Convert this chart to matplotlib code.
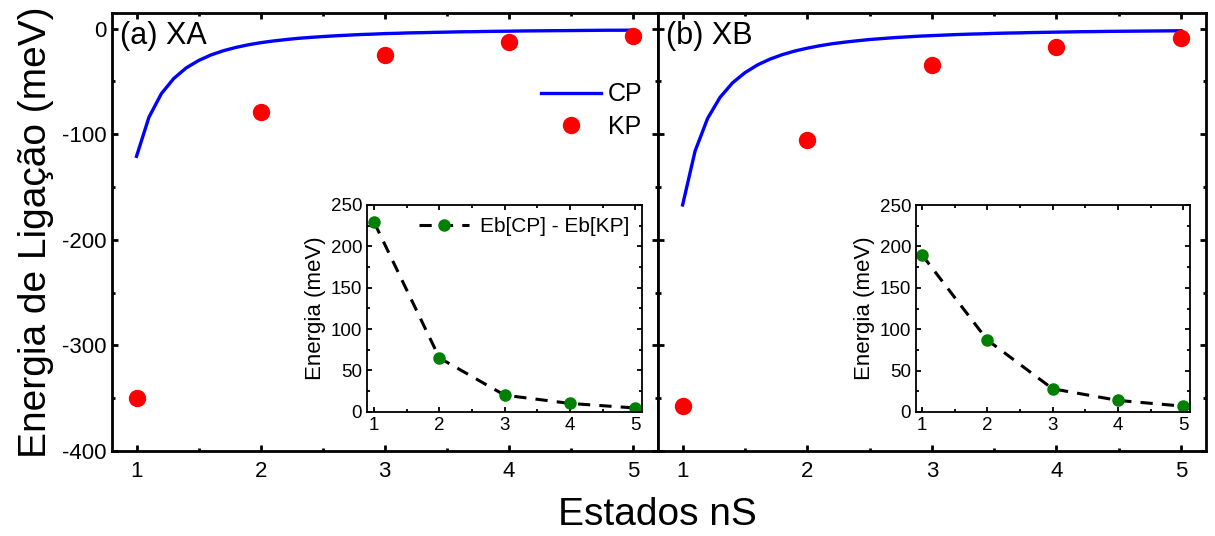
import numpy as np
import matplotlib.pyplot as plt

plt.rcParams["font.family"] = ["Liberation Sans", "DejaVu Sans"]
plt.rcParams["axes.unicode_minus"] = False

# estados nS
estados = [1, 2, 3, 4, 5]

# curva CP (amostrada de 0.1 em 0.1 entre n=1 e n=5)
n_cp = np.linspace(1, 5, 41)
cp_xa = [-121.0, -84.0, -61.7, -47.3, -37.3, -30.3, -25.0, -21.0, -17.9, -15.4,
         -13.4, -11.8, -10.5, -9.3, -8.4, -7.6, -6.9, -6.3, -5.7, -5.3,
         -4.8, -4.5, -4.1, -3.9, -3.6, -3.4, -3.1, -3.0, -2.8, -2.6,
         -2.5, -2.3, -2.2, -2.1, -2.0, -1.9, -1.8, -1.7, -1.6, -1.6, -1.5]
cp_xb = [-167.0, -116.0, -85.2, -65.2, -51.5, -41.8, -34.5, -29.0, -24.7, -21.3,
         -18.6, -16.3, -14.4, -12.9, -11.6, -10.4, -9.5, -8.6, -7.9, -7.2,
         -6.7, -6.2, -5.7, -5.3, -5.0, -4.6, -4.3, -4.1, -3.8, -3.6,
         -3.4, -3.2, -3.0, -2.9, -2.7, -2.6, -2.5, -2.4, -2.3, -2.2, -2.1]

# pontos KP
kp_xa = [-350, -79, -25, -13, -7]
kp_xb = [-357, -106, -34.5, -17.5, -9]

# diferenca Eb[CP] - Eb[KP]
dif_xa = [229, 65, 20, 10, 4.5]
dif_xb = [190, 87, 28, 14, 7]

W, H = 1215, 536
fig = plt.figure(figsize=(W / 100, H / 100), dpi=100)

ax1 = fig.add_axes([111.7 / W, 1 - 451 / H, 546 / W, 438.3 / H])
ax2 = fig.add_axes([657.7 / W, 1 - 451 / H, 548.3 / W, 438.3 / H], sharey=ax1)


def estilo(ax, lw=2.0, maj=4.5, mnr=2.5, size=16):
    for s in ax.spines.values():
        s.set_linewidth(lw)
    ax.tick_params(which="both", direction="in", top=True, right=True,
                   width=lw, labelsize=size)
    ax.tick_params(which="major", length=maj)
    ax.tick_params(which="minor", length=mnr)


for ax, cp, kp, rot in [(ax1, cp_xa, kp_xa, "(a) XA"), (ax2, cp_xb, kp_xb, "(b) XB")]:
    ax.plot(n_cp, cp, color="blue", lw=2.4, label="CP")
    ax.plot(estados, kp, "o", color="red", ms=11.5, label="KP")
    ax.set_xlim(0.8, 5.2)
    ax.set_ylim(-400, 15)
    ax.set_xticks(estados)
    ax.set_xticks([1.5, 2.5, 3.5, 4.5], minor=True)
    ax.set_yticks([0, -100, -200, -300, -400])
    ax.set_yticks([-50, -150, -250, -350], minor=True)
    estilo(ax)
    ax.tick_params(axis="x", pad=7)
    ax.text(0.015, 0.947, rot, transform=ax.transAxes, fontsize=22,
            ha="left", va="center")

ax2.tick_params(axis="y", labelleft=False)
ax1.set_ylabel("Energia de Ligação (meV)", fontsize=28, labelpad=6)
fig.text(657.7 / W, 1 - 515 / H, "Estados nS", fontsize=28, ha="center", va="center")

ax1.legend(loc="upper right", bbox_to_anchor=(1.0, 0.875), frameon=False,
           fontsize=18, handlelength=2.4, handletextpad=0.3, labelspacing=0.35,
           borderaxespad=0.2)

# insets com a diferenca de energia
ins1 = fig.add_axes([367 / W, 1 - 411.7 / H, 274.7 / W, 206.7 / H])
ins2 = fig.add_axes([916 / W, 1 - 412 / H, 274 / W, 207 / H])

for ins, dif, x0 in [(ins1, dif_xa, 0.89), (ins2, dif_xb, 0.91)]:
    ins.plot(estados, dif, color="black", ls="--", dashes=(4, 3), lw=2.2,
             marker="o", ms=8, mfc="green", mec="green",
             label="Eb[CP] - Eb[KP]")
    ins.set_xlim(x0, 5.1)
    ins.set_ylim(0, 250)
    ins.set_xticks(estados)
    ins.set_xticks([1.5, 2.5, 3.5, 4.5], minor=True)
    ins.set_yticks([0, 50, 100, 150, 200, 250])
    ins.set_yticks([25, 75, 125, 175, 225], minor=True)
    estilo(ins, lw=1.3, maj=3.5, mnr=2, size=13.5)
    ins.set_ylabel("Energia (meV)", fontsize=16, labelpad=3)

ins1.legend(loc="upper right", frameon=False, fontsize=15, handlelength=2.4,
            handletextpad=0.5, borderaxespad=0.2)

fig.savefig("out.png", dpi=100)
